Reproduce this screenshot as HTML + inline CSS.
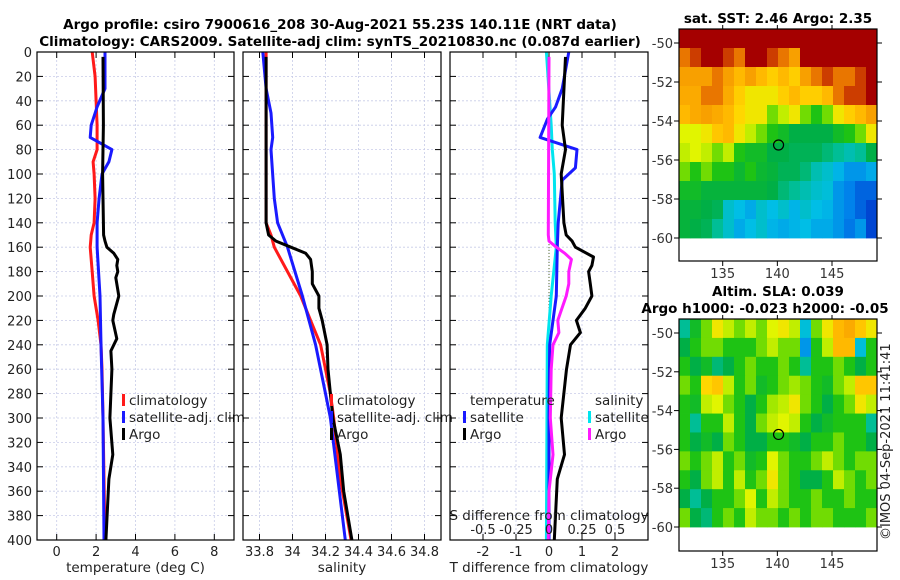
<!DOCTYPE html>
<html><head><meta charset="utf-8"><style>
html,body{margin:0;padding:0;background:#fff;}
svg{display:block;font-family:"DejaVu Sans","Liberation Sans",sans-serif;}
</style></head><body>
<svg id="fig" width="900" height="580" viewBox="0 0 900 580" xmlns="http://www.w3.org/2000/svg">
<g id="titles" font-weight="bold" font-size="13.5" text-anchor="middle">
<text x="340" y="29">Argo profile: csiro 7900616_208 30-Aug-2021 55.23S 140.11E (NRT data)</text>
<text x="340" y="46">Climatology: CARS2009. Satellite-adj clim: synTS_20210830.nc (0.087d earlier)</text>
<text x="778" y="23">sat. SST: 2.46 Argo: 2.35</text>
<text x="778" y="296">Altim. SLA: 0.039</text>
<text x="765" y="313">Argo h1000: -0.023 h2000: -0.05</text>
</g>
<text x="0" y="0" font-size="13" fill="#222" transform="translate(890,540) rotate(-90)">©IMOS 04-Sep-2021 11:41:41</text>
</svg>
<script>
// ---- profile data ----
const tClimDepth=[0,20,40,60,80,90,100,120,140,150,160,180,200,220,240,260,300,350,400];
const tClimVal=[1.8,1.95,2.0,2.05,2.05,1.85,1.9,1.95,1.9,1.75,1.7,1.8,1.9,2.1,2.25,2.3,2.35,2.4,2.45];
const tSatDepth=[0,30,45,60,70,80,90,100,120,140,160,200,240,300,400];
const tSatVal=[2.45,2.45,2.05,1.75,1.7,2.8,2.65,2.3,2.15,2.05,2.05,2.2,2.25,2.35,2.4];
const tArgoDepth=[4,60,100,150,155,160,165,170,175,180,185,195,200,215,220,235,245,260,300,330,350,400];
const tArgoVal=[2.35,2.37,2.33,2.38,2.45,2.55,2.9,3.1,3.05,3.1,3.0,3.1,3.15,2.9,2.85,3.05,2.75,2.8,2.7,2.85,2.65,2.5];
const sClimDepth=[0,140,150,160,200,220,240,280,300,350,400];
const sClimVal=[33.84,33.84,33.87,33.89,34.05,34.11,34.17,34.23,34.25,34.29,34.355];
const sSatDepth=[0,30,50,70,80,120,140,160,200,240,280,300,400];
const sSatVal=[33.82,33.84,33.87,33.88,33.87,33.89,33.91,33.97,34.06,34.14,34.2,34.23,34.32];
const sArgoDepth=[4,140,150,155,160,165,170,180,190,200,210,220,240,260,280,300,330,360,400];
const sArgoVal=[33.84,33.84,33.855,33.9,33.99,34.08,34.11,34.12,34.12,34.16,34.16,34.18,34.21,34.215,34.23,34.245,34.29,34.31,34.36];
const dTSatDepth=[0,30,45,55,70,80,95,105,120,140,160,200,240,300,400];
const dTSatVal=[0.6,0.4,0.2,-0.05,-0.27,0.85,0.8,0.4,0.35,0.28,0.25,0.22,0.02,0.0,0.0];
const dTArgoDepth=[4,60,80,100,140,150,155,160,168,175,180,190,200,210,220,230,240,260,300,330,350,400];
const dTArgoVal=[0.5,0.4,0.5,0.37,0.45,0.52,0.7,0.8,1.35,1.3,1.2,1.25,1.3,1.1,0.83,0.95,0.65,0.53,0.37,0.47,0.25,0.16];
const dSSatDepth=[0,60,80,100,140,160,200,240,400];
const dSSatVal=[-0.02,0.017,0.025,0.04,0.047,0.055,0.017,-0.013,-0.02];
const dSArgoDepth=[4,150,155,160,165,170,180,190,200,220,230,240,260,300,330,360,400];
const dSArgoVal=[0,-0.005,0,0.055,0.12,0.17,0.15,0.15,0.13,0.067,0.075,0.03,0.017,0.01,0.03,0.0,-0.005];
const depthTicks=[0,20,40,60,80,100,120,140,160,180,200,220,240,260,280,300,320,340,360,380,400];
const tTicks=[0,2,4,6,8];
const sTicks=[33.8,34,34.2,34.4,34.6,34.8];
const sTickLabels=["33.8","34","34.2","34.4","34.6","34.8"];
const dTTicks=[-2,-1,0,1,2];
const dSTicks=[-0.5,-0.25,0,0.25,0.5];
// ---- map data (colormap fraction, rows north->south, 1deg cols 131..149) ----
const sstGrid=[
[0.95,0.95,0.95,0.95,0.95,0.95,0.95,0.95,0.95,0.95,0.95,0.95,0.95,0.95,0.95,0.95,0.95,0.95],
[0.85,0.9,0.95,0.95,0.9,0.85,0.95,0.95,0.9,0.85,0.8,0.95,0.95,0.95,0.95,0.95,0.95,0.95],
[0.8,0.8,0.8,0.85,0.8,0.75,0.8,0.75,0.7,0.75,0.7,0.8,0.85,0.9,0.85,0.85,0.9,0.95],
[0.78,0.78,0.85,0.85,0.78,0.7,0.65,0.65,0.65,0.7,0.75,0.7,0.7,0.75,0.85,0.9,0.9,0.95],
[0.75,0.78,0.8,0.78,0.75,0.68,0.65,0.65,0.55,0.6,0.65,0.55,0.5,0.55,0.65,0.7,0.75,0.8],
[0.62,0.62,0.65,0.72,0.75,0.65,0.6,0.55,0.5,0.48,0.45,0.45,0.45,0.45,0.48,0.5,0.55,0.65],
[0.6,0.62,0.6,0.55,0.6,0.5,0.48,0.48,0.45,0.45,0.44,0.44,0.44,0.42,0.4,0.38,0.4,0.45],
[0.55,0.5,0.55,0.5,0.5,0.47,0.5,0.47,0.46,0.44,0.44,0.42,0.38,0.36,0.33,0.3,0.3,0.32],
[0.48,0.48,0.46,0.46,0.46,0.46,0.46,0.46,0.45,0.42,0.4,0.38,0.36,0.35,0.3,0.28,0.25,0.25],
[0.46,0.46,0.45,0.44,0.36,0.34,0.32,0.36,0.34,0.36,0.33,0.36,0.34,0.33,0.3,0.28,0.25,0.22],
[0.46,0.45,0.44,0.4,0.36,0.32,0.34,0.36,0.33,0.32,0.33,0.34,0.32,0.32,0.3,0.27,0.3,0.22]];
const slaGrid=[
[0.4,0.48,0.55,0.65,0.6,0.55,0.6,0.55,0.62,0.65,0.6,0.35,0.55,0.65,0.75,0.78,0.72,0.65],
[0.45,0.5,0.55,0.55,0.5,0.5,0.5,0.55,0.6,0.55,0.55,0.3,0.5,0.6,0.75,0.75,0.35,0.5],
[0.5,0.45,0.48,0.42,0.45,0.5,0.55,0.5,0.5,0.55,0.5,0.4,0.5,0.5,0.55,0.5,0.45,0.5],
[0.55,0.5,0.68,0.72,0.6,0.5,0.55,0.48,0.5,0.55,0.58,0.55,0.5,0.48,0.55,0.6,0.72,0.72],
[0.5,0.48,0.6,0.62,0.55,0.5,0.45,0.5,0.58,0.6,0.65,0.55,0.5,0.45,0.5,0.55,0.65,0.6],
[0.5,0.4,0.5,0.5,0.6,0.5,0.45,0.55,0.6,0.62,0.6,0.5,0.45,0.48,0.5,0.5,0.5,0.4],
[0.5,0.45,0.48,0.45,0.55,0.5,0.45,0.45,0.5,0.5,0.48,0.45,0.5,0.5,0.55,0.5,0.5,0.45],
[0.55,0.5,0.55,0.6,0.5,0.55,0.48,0.5,0.62,0.55,0.5,0.5,0.55,0.6,0.55,0.5,0.55,0.55],
[0.5,0.45,0.55,0.6,0.5,0.6,0.5,0.55,0.65,0.55,0.5,0.45,0.45,0.5,0.6,0.55,0.5,0.55],
[0.45,0.4,0.45,0.5,0.5,0.55,0.62,0.5,0.6,0.55,0.5,0.5,0.55,0.5,0.5,0.55,0.5,0.5],
[0.55,0.45,0.42,0.5,0.55,0.5,0.6,0.55,0.55,0.5,0.55,0.5,0.55,0.55,0.5,0.5,0.5,0.55]];
const mapLatTicks=[-50,-52,-54,-56,-58,-60];
const mapLonTicks=[135,140,145];
const argoLon=140.11, argoLat=-55.23;

const NS="http://www.w3.org/2000/svg";
const svg=document.getElementById('fig');
function mk(tag,attrs,parent){const e=document.createElementNS(NS,tag);for(const k in attrs)e.setAttribute(k,attrs[k]);(parent||svg).appendChild(e);return e;}
const Y0=52,Y1=540;
const yScale=d=>Y0+(d/400)*(Y1-Y0);

function panel(name,x0,x1,xmin,xmax,ticks,labels,showY,xtitle){
  const g=mk('g',{});
  
  
  const xs=v=>x0+(v-xmin)/(xmax-xmin)*(x1-x0);
  depthTicks.forEach(d=>{
    const l=mk('line',{x1:x0,x2:x1,y1:yScale(d),y2:yScale(d),stroke:'#c8cce8','stroke-width':0.8,'stroke-dasharray':'2,2'},g);
    
    mk('line',{x1:x0,x2:x0+6,y1:yScale(d),y2:yScale(d),stroke:'#000'},g);
    mk('line',{x1:x1-6,x2:x1,y1:yScale(d),y2:yScale(d),stroke:'#000'},g);
    if(showY){const t=mk('text',{x:x0-5,y:yScale(d)+5,'text-anchor':'end','font-size':13,fill:'#222'},g);t.textContent=d;
      }
  });
  ticks.forEach((v,i)=>{
    const l=mk('line',{x1:xs(v),x2:xs(v),y1:Y0,y2:Y1,stroke:'#c8cce8','stroke-width':0.8,'stroke-dasharray':'2,2'},g);
    
    mk('line',{x1:xs(v),x2:xs(v),y1:Y1-6,y2:Y1,stroke:'#000'},g);
    mk('line',{x1:xs(v),x2:xs(v),y1:Y0,y2:Y0+6,stroke:'#000'},g);
    const t=mk('text',{x:xs(v),y:556,'text-anchor':'middle','font-size':13,fill:'#222'},g);t.textContent=labels[i];
    
  });
  const tt=mk('text',{x:(x0+x1)/2,y:572,'text-anchor':'middle','font-size':13.5,fill:'#222'},g);tt.textContent=xtitle;
  
  return {g,xs,x0,x1};
}
function series(p,name,depths,vals,color,xf){
  const pts=depths.map((d,i)=>(xf?xf(vals[i]):p.xs(vals[i])).toFixed(1)+','+yScale(d).toFixed(1)).join(' ');
  const e=mk('polyline',{points:pts,fill:'none',stroke:color,'stroke-width':3,'stroke-linejoin':'round'},p.g);
  
  
}
function frame(p){const r=mk('rect',{x:p.x0,y:Y0,width:p.x1-p.x0,height:Y1-Y0,fill:'none',stroke:'#000','stroke-width':1.2},p.g);
  }
function legendRow(p,x,y,color,label,name){
  const g=mk('g',{},p.g);
  
  
  if(color) mk('rect',{x:x,y:y-11,width:3,height:12,fill:color},g);
  const t=mk('text',{x:x+7,y:y,'font-size':13.5,fill:'#222'},g);t.textContent=label;
}

const p1=panel('temperature-panel',37,234,-1,9,tTicks,tTicks.map(String),true,'temperature (deg C)');
series(p1,'temperature-climatology-line',tClimDepth,tClimVal,'#ff1a1a');
series(p1,'temperature-satellite-line',tSatDepth,tSatVal,'#1a1aff');
series(p1,'temperature-argo-line',tArgoDepth,tArgoVal,'#000');
legendRow(p1,122,405,'#ff1a1a','climatology','legend-climatology');
legendRow(p1,122,422,'#1a1aff','satellite-adj. clim','legend-satellite-adj');
legendRow(p1,122,439,'#000','Argo','legend-argo');
frame(p1);

const p2=panel('salinity-panel',243,441,33.7,34.9,sTicks,sTickLabels,false,'salinity');
series(p2,'salinity-climatology-line',sClimDepth,sClimVal,'#ff1a1a');
series(p2,'salinity-satellite-line',sSatDepth,sSatVal,'#1a1aff');
series(p2,'salinity-argo-line',sArgoDepth,sArgoVal,'#000');
legendRow(p2,330,405,'#ff1a1a','climatology','legend-climatology');
legendRow(p2,330,422,'#1a1aff','satellite-adj. clim','legend-satellite-adj');
legendRow(p2,330,439,'#000','Argo','legend-argo');
frame(p2);

const p3=panel('difference-panel',450,648,-3,3,dTTicks,dTTicks.map(String),false,'T difference from climatology');
const sx=v=>p3.xs(v*4);
const zl=mk('line',{x1:sx(0),x2:sx(0),y1:yScale(150),y2:Y1,stroke:'#556b2f','stroke-width':1,'stroke-dasharray':'1,2'},p3.g);

series(p3,'s-satellite-diff-line',dSSatDepth,dSSatVal,'#00e5ee',sx);
series(p3,'t-satellite-diff-line',dTSatDepth,dTSatVal,'#1a1aff');
series(p3,'s-argo-diff-line',dSArgoDepth,dSArgoVal,'#ff1aff',sx);
series(p3,'t-argo-diff-line',dTArgoDepth,dTArgoVal,'#000');
legendRow(p3,463,405,null,'temperature','legend-temperature-header');
legendRow(p3,463,422,'#1a1aff','satellite','legend-t-satellite');
legendRow(p3,463,439,'#000','Argo','legend-t-argo');
legendRow(p3,588,405,null,'salinity','legend-salinity-header');
legendRow(p3,588,422,'#00e5ee','satellite','legend-s-satellite');
legendRow(p3,588,439,'#ff1aff','Argo','legend-s-argo');
const st=mk('text',{x:549,y:520,'text-anchor':'middle','font-size':13.5,fill:'#222'},p3.g);st.textContent='S difference from climatology';

dSTicks.forEach(v=>{const t=mk('text',{x:sx(v),y:534,'text-anchor':'middle','font-size':13,fill:'#222'},p3.g);t.textContent=String(v);
  });
frame(p3);

const cmapStops=[[0.15,[0,30,170]],[0.22,[0,70,210]],[0.28,[0,130,235]],[0.34,[0,190,230]],[0.4,[0,190,150]],[0.45,[0,175,70]],[0.5,[30,195,20]],[0.56,[130,225,0]],[0.62,[225,245,0]],[0.68,[255,215,0]],[0.75,[255,185,0]],[0.82,[245,150,0]],[0.88,[220,85,0]],[0.95,[165,0,0]]];
function cmap(v){
  if(v<=cmapStops[0][0])return `rgb(${cmapStops[0][1].join(',')})`;
  for(let i=1;i<cmapStops.length;i++){
    const [a,ca]=cmapStops[i-1],[b,cb]=cmapStops[i];
    if(v<=b){const t=(v-a)/(b-a);return `rgb(${ca.map((c,k)=>Math.round(c+(cb[k]-c)*t)).join(',')})`;}
  }
  return `rgb(${cmapStops[cmapStops.length-1][1].join(',')})`;
}
function map(name,grid,top,bottom,lat50y,lat60y){
  const g=mk('g',{});
  
  
  const L=679,R=877;
  const lonS=v=>722.7+(v-135)*10.93;
  const latS=v=>lat50y+(-50-v)*(lat60y-lat50y)/10;
  const cols=grid[0].length,rows=grid.length;
  const cw=(R-L)/cols,ch=(lat60y-top)/rows;
  grid.forEach((row,ri)=>row.forEach((v,ci)=>{
    const r=mk('rect',{x:(L+ci*cw).toFixed(2),y:(top+ri*ch).toFixed(2),width:(cw+0.4).toFixed(2),height:(ch+0.4).toFixed(2),fill:cmap(v)},g);
    
    
  }));
  mapLatTicks.forEach(v=>{
    mk('line',{x1:L-5,x2:L,y1:latS(v),y2:latS(v),stroke:'#000'},g);
    mk('line',{x1:R,x2:R+5,y1:latS(v),y2:latS(v),stroke:'#000'},g);
    const t=mk('text',{x:L-6,y:latS(v)+5,'text-anchor':'end','font-size':13,fill:'#333'},g);t.textContent=v;
    
  });
  mapLonTicks.forEach(v=>{
    mk('line',{x1:lonS(v),x2:lonS(v),y1:bottom,y2:bottom+5,stroke:'#000'},g);
    mk('line',{x1:lonS(v),x2:lonS(v),y1:top-4,y2:top,stroke:'#000'},g);
    const t=mk('text',{x:lonS(v),y:bottom+17,'text-anchor':'middle','font-size':13,fill:'#333'},g);t.textContent=v;
    
  });
  const c=mk('circle',{cx:lonS(argoLon),cy:latS(argoLat),r:5,fill:'none',stroke:'#000','stroke-width':1.2},g);
  
  const f=mk('rect',{x:L,y:top,width:R-L,height:bottom-top,fill:'none',stroke:'#000','stroke-width':1.2},g);
  
}
map('sst-map',sstGrid,29,261,43,238);
map('sla-map',slaGrid,319,551,333,527);
</script>
</body></html>
